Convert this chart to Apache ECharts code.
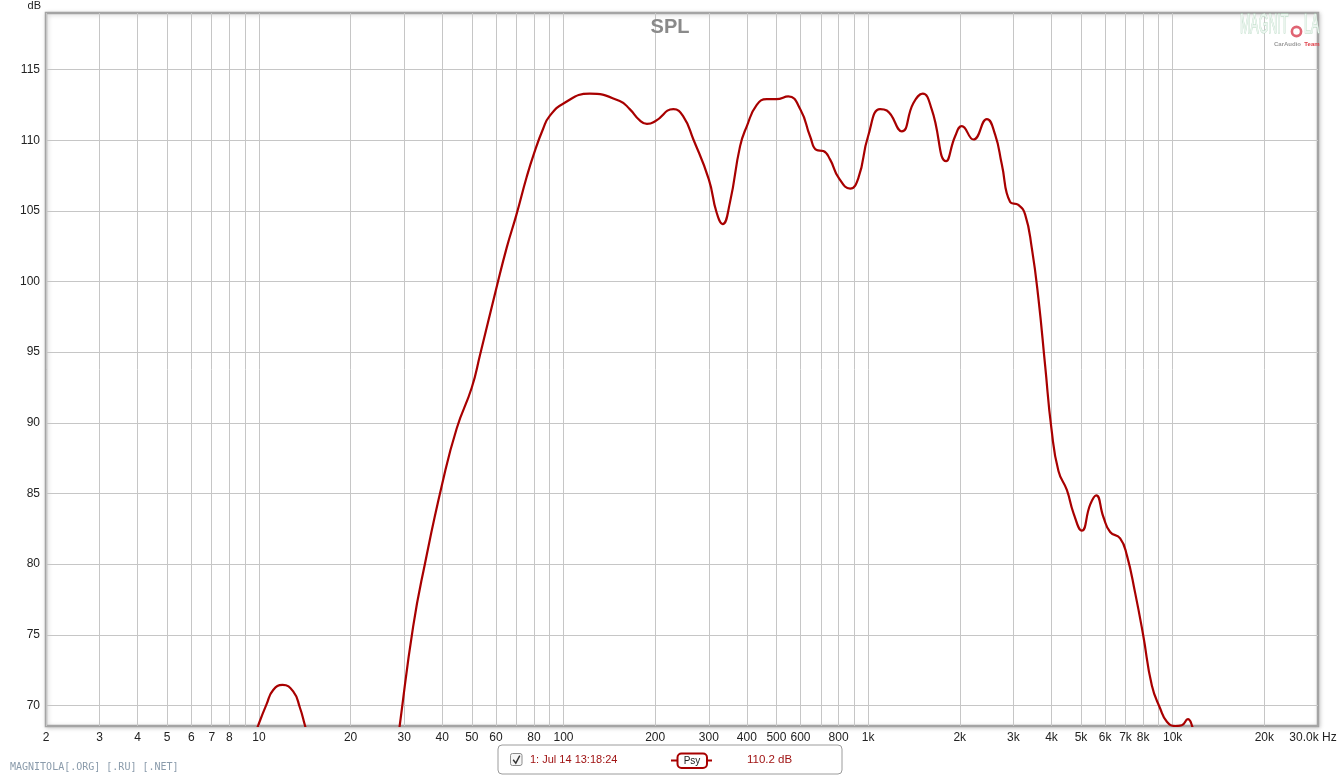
<!DOCTYPE html>
<html><head><meta charset="utf-8">
<script src="https://cdn.jsdelivr.net/npm/echarts@6/dist/echarts.min.js"></script>
<style>html,body{margin:0;padding:0;background:#fff}#c{width:1340px;height:776px}</style>
</head><body><div id="c"></div>
<script>
// ---- data ----
const freqs = [9.3, 9.95, 10.6, 11.14, 11.96, 12.96, 13.63, 14.16, 15, 17, 21, 25, 27,
  29, 32.1, 35.1, 40, 44.6, 50, 53.2, 60, 65.1, 70, 75.7, 80, 85.8, 90, 100, 122, 153, 165, 178, 188, 200,
  229.5, 247, 267, 300, 318, 333, 352, 380, 400, 431, 465, 500, 547, 600, 645, 678, 713, 750, 800, 873, 930,
  1000, 1095, 1152, 1290, 1409, 1512, 1619, 1804, 1931, 2031, 2217, 2454, 2613, 2748, 2927, 3116, 3279,
  3448, 3625, 3814, 4000, 4217, 4493, 4724, 5032, 5359, 5608, 5927, 6233, 6723, 7072, 7530, 8000, 8544,
  9099, 9572, 10190, 10715, 11218, 11562, 12300, 14000];
const spl = [66.8, 68.6, 70.1, 71.1, 71.46, 71.0, 69.86, 68.6, 66.6, 62, 56, 59, 63.5,
  68.6, 75.6, 80.05, 85.7, 89.6, 92.5, 94.8, 99.4, 102.4, 104.7, 107.4, 109.05, 110.83, 111.7, 112.6, 113.3, 112.77, 112.2, 111.4, 111.15, 111.34,
  112.2, 111.7, 110.05, 107.23, 104.9, 104.06, 105.6, 109.58, 111.0, 112.5, 112.9, 112.9, 113.1, 112.16, 110.28, 109.3, 109.23, 108.64, 107.35, 106.57, 107.35,
  110.28, 112.2, 112.1, 110.63, 112.63, 113.29, 112.16, 108.52, 110.28, 111.0, 110.05, 111.49, 110.39, 108.3, 105.63, 105.42, 104.73,
  102.36, 98.79, 94.03, 89.57, 86.6, 85.25, 83.62, 82.37, 84.21, 84.87, 83.32, 82.28, 81.83, 80.64, 77.97, 74.99, 71.42,
  69.79, 68.85, 68.55, 68.6, 69.03, 68.6, 66.5, 62];
const xGridFreqs = [2,3,4,5,6,7,8,9,10,20,30,40,50,60,70,80,90,100,200,300,400,500,600,700,800,900,
  1000,2000,3000,4000,5000,6000,7000,8000,9000,10000,20000];
const xTickFreqs = [2,3,4,5,6,7,8,10,20,30,40,50,60,80,100,200,300,400,500,600,800,
  1000,2000,3000,4000,5000,6000,7000,8000,10000,20000,30000];
const xTickLabels = ['2','3','4','5','6','7','8','10','20','30','40','50','60','80','100','200','300','400','500','600','800',
  '1k','2k','3k','4k','5k','6k','7k','8k','10k','20k','30.0k Hz'];
const yTicks = [70,75,80,85,90,95,100,105,110,115];
const yMin = 68.55, yMax = 119, xMin = 2, xMax = 30000;
const titleText = 'SPL';
const yUnit = 'dB';
const legendName = '1: Jul 14 13:18:24';
const legendTag = 'Psy';
const legendValue = '110.2 dB';
const footerText = 'MAGNITOLA[.ORG] [.RU] [.NET]';

const chart = echarts.init(document.getElementById('c'), null, {renderer: 'canvas'});
const red = '#a80000';
const font = 'Liberation Sans';

const option = {
  backgroundColor: '#ffffff',
  animation: false,
  title: {
    text: titleText, left: 'center', top: 12,
    textStyle: {fontFamily: font, fontSize: 20, fontWeight: 'bold', color: '#8a8a8a'}
  },
  grid: {
    left: 46, top: 13, width: 1272, height: 713,
    outerBoundsMode: 'none', containLabel: false,
    show: true, backgroundColor: '#fff', borderColor: '#a4a4a4', borderWidth: 2.5,
    shadowColor: 'rgba(0,0,0,0.18)', shadowBlur: 4, shadowOffsetX: 1, shadowOffsetY: 1
  },
  xAxis: {
    type: 'log', min: xMin, max: xMax, logBase: 10,
    axisLine: {show: false},
    axisTick: {show: false, customValues: xGridFreqs},
    splitLine: {show: true, lineStyle: {color: '#c6c6c6', width: 1}},
    minorSplitLine: {show: false},
    axisLabel: {
      customValues: xTickFreqs, margin: 6, color: '#222', fontFamily: font, fontSize: 12,
      formatter: v => {
        const i = xTickFreqs.findIndex(f => Math.abs(f - v) / f < 1e-6);
        if (i < 0) return '';
        return i === xTickFreqs.length - 1 ? '{last|' + xTickLabels[i] + '}' : xTickLabels[i];
      },
      rich: {last: {fontFamily: font, fontSize: 12, color: '#222', padding: [0, 10, 0, 0]}}
    }
  },
  yAxis: {
    type: 'value', min: yMin, max: yMax,
    axisLine: {show: false},
    axisTick: {show: false, customValues: yTicks},
    splitLine: {show: true, lineStyle: {color: '#c6c6c6', width: 1}},
    axisLabel: {customValues: yTicks, margin: 6, color: '#222', fontFamily: font, fontSize: 12}
  },
  series: [{
    type: 'line', name: legendName,
    data: freqs.map((f, i) => [f, spl[i]]),
    smooth: 0.5, showSymbol: false, clip: true,
    lineStyle: {color: red, width: 2.2},
    z: 5
  }],
  graphic: [
    {type: 'text', x: 41, y: 6, style: {text: yUnit, align: 'right', verticalAlign: 'middle', fill: '#222', font: '11px ' + font}},
    // watermark top-right
    {type: 'text', x: 1240, y: 12, scaleX: 0.46, z: 1,
      style: {text: 'MAGNIT', fill: '#eaf4ee', stroke: '#b3d8bf', lineWidth: 1, font: '27px ' + font}},
    {type: 'circle', shape: {cx: 1296.5, cy: 31.5, r: 4.6}, z: 1,
      style: {fill: 'none', stroke: '#e06473', lineWidth: 2.6}},
    {type: 'text', x: 1304, y: 12, scaleX: 0.46, z: 1,
      style: {text: 'LA', fill: '#eaf4ee', stroke: '#b3d8bf', lineWidth: 1, font: '27px ' + font}},
    {type: 'text', x: 1274, y: 44.5, z: 1,
      style: {text: '{a|CarAudio} {b|Team}', verticalAlign: 'middle',
        rich: {a: {fill: '#9a9a9a', font: 'bold 6px ' + font}, b: {fill: '#e0404a', font: 'bold 6px ' + font}}}},
    // footer
    {type: 'text', x: 10, y: 767, style: {text: footerText, verticalAlign: 'middle', fill: '#8a9bab', font: '10px DejaVu Sans Mono'}},
    // legend box
    {type: 'rect', shape: {x: 498, y: 745, width: 344, height: 29, r: 4}, style: {fill: '#fff', stroke: '#9c9c9c', lineWidth: 1}},
    {type: 'rect', shape: {x: 510.5, y: 753.5, width: 11.5, height: 12, r: 2}, style: {fill: '#f6f6f6', stroke: '#8c8c8c', lineWidth: 1}},
    {type: 'polyline', shape: {points: [[513.2, 759.8], [515.8, 763.2], [519.8, 755.6]]}, style: {fill: 'none', stroke: '#333', lineWidth: 1.4}},
    {type: 'text', x: 530, y: 760, style: {text: legendName, verticalAlign: 'middle', fill: '#a01414', font: '11px ' + font}},
    {type: 'polyline', shape: {points: [[671, 760.5], [712, 760.5]]}, style: {fill: 'none', stroke: red, lineWidth: 2}},
    {type: 'rect', shape: {x: 677.5, y: 753.5, width: 29.5, height: 14.5, r: 4}, style: {fill: '#fff', stroke: red, lineWidth: 2}},
    {type: 'text', x: 692, y: 761.5, style: {text: legendTag, align: 'center', verticalAlign: 'middle', fill: '#222', font: '10px ' + font}},
    {type: 'text', x: 747, y: 760, style: {text: legendValue, verticalAlign: 'middle', fill: '#a01414', font: '11.5px ' + font}}
  ]
};
chart.setOption(option);
</script>
</body></html>
